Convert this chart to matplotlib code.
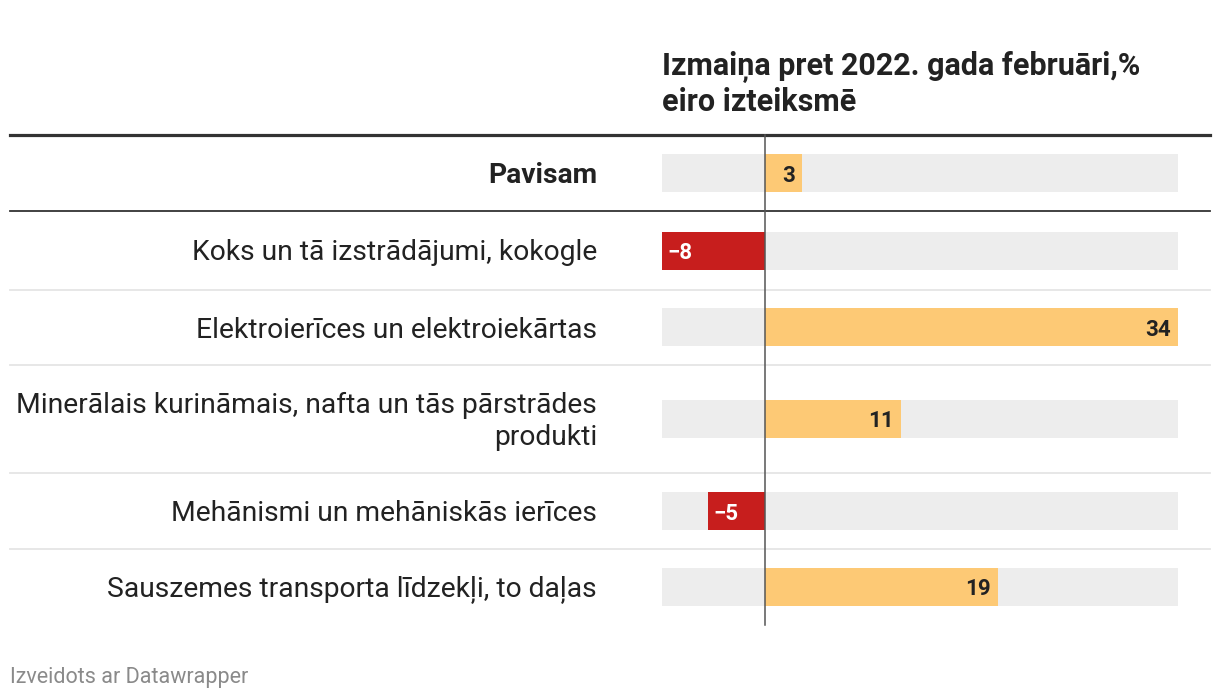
import numpy as np
import matplotlib
matplotlib.use('Agg')
import matplotlib.pyplot as plt

plt.rcParams['font.family'] = ['Roboto', 'DejaVu Sans']

# data
labels = ['Pavisam',
          'Koks un tā izstrādājumi, kokogle',
          'Elektroierīces un elektroiekārtas',
          'Minerālais kurināmais, nafta un tās pārstrādes\nprodukti',
          'Mehānismi un mehāniskās ierīces',
          'Sauszemes transporta līdzekļi, to daļas']
values = [3.1, -8.45, 34, 11.2, -4.7, 19.2]
value_labels = ['3', '−8', '34', '11', '−5', '19']
title = 'Izmaiņa pret 2022. gada februāri,%\neiro izteiksmē'
footer = 'Izveidots ar Datawrapper'

# layout (pixels)
W, H = 1220, 700
row_heights = [76, 79, 75, 108, 76, 76]
top = 135
x_min, x_max = min(values), max(values)

fig = plt.figure(figsize=(W / 100, H / 100), dpi=100)

# decoration axes in pixel coords
bg = fig.add_axes([0, 0, 1, 1])
bg.set_xlim(0, W)
bg.set_ylim(H, 0)
bg.axis('off')

# bar axes
bottom = top + sum(row_heights)
ax = fig.add_axes([662 / W, 1 - bottom / H, (1178 - 662) / W, (bottom - top) / H])
ax.set_xlim(x_min, x_max)
ax.set_ylim(bottom, top)
ax.axis('off')

edges = top + np.concatenate([[0], np.cumsum(row_heights)])
centers = (edges[:-1] + edges[1:]) / 2

orange = '#fdc975'
red = '#c71e1d'
text_c = '#222222'

for i, (lab, v, vl) in enumerate(zip(labels, values, value_labels)):
    c = centers[i]
    ax.barh(c, x_max - x_min, left=x_min, height=38, color='#ededed', zorder=1)
    ax.barh(c, v, height=38, color=orange if v >= 0 else red, zorder=2)
    if v >= 0:
        ax.annotate(vl, (v, c), xytext=(-5, 0), textcoords='offset points',
                    ha='right', va='center_baseline', fontsize=16, fontweight='bold',
                    color=text_c, zorder=3)
    else:
        ax.annotate(vl, (v, c), xytext=(4, 0), textcoords='offset points',
                    ha='left', va='center_baseline', fontsize=16, fontweight='bold',
                    color='white', zorder=3)
    bg.text(597, c + 2.5, lab, ha='right', va='center', fontsize=20.3, color=text_c,
            fontweight='bold' if i == 0 else 'normal', linespacing=1.25)

# separators
for k, y in enumerate(edges[1:-1]):
    if k == 0:
        bg.plot([10, 1210], [y, y], color='#333333', lw=1.3, zorder=0)
    else:
        bg.plot([10, 1210], [y, y], color='#e5e5e5', lw=1.3, zorder=0)
bg.plot([10, 1210], [top, top], color='#333333', lw=2.3, zorder=0)

# zero line
ax.plot([0, 0], [top, bottom], color='#555555', lw=1.1, zorder=4, clip_on=False)

bg.text(662, 84, title, ha='left', va='center', fontsize=22, fontweight='bold',
        color=text_c, linespacing=1.15)
bg.text(10, 677, footer, ha='left', va='center', fontsize=15.5, color='#8a8a8a')

fig.savefig('out.png', dpi=100, facecolor='white')
